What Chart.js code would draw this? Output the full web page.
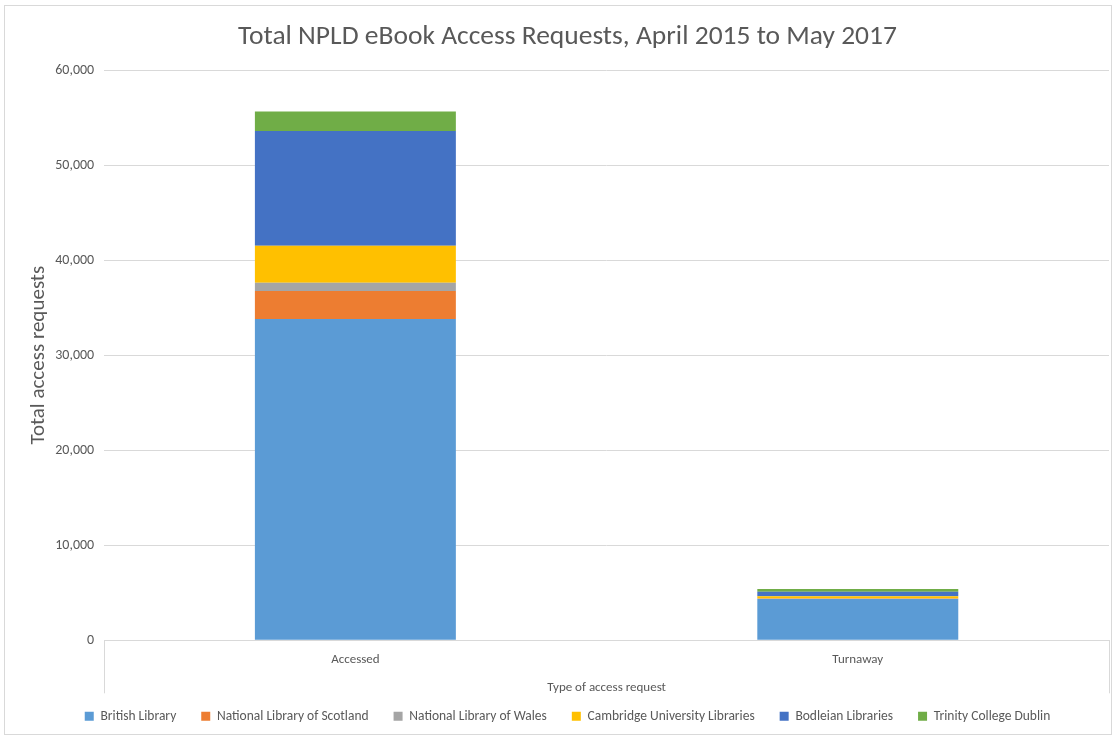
<!DOCTYPE html>
<html>
<head>
<meta charset="utf-8">
<script src="https://cdn.jsdelivr.net/npm/chart.js@4.4.1/dist/chart.umd.min.js"></script>
<style>
  html, body { margin: 0; padding: 0; background: #fff; }
  #wrap { position: relative; width: 1115px; height: 736px; }
  #frame { position: absolute; left: 4px; top: 5px; width: 1106px; height: 728px; border: 1px solid #d9d9d9; pointer-events: none; }
</style>
</head>
<body>
<div id="wrap">
  <canvas id="chart" width="1115" height="736"></canvas>
  <div id="frame"></div>
</div>
<script>
// Categories and series
const categories = ['Accessed', 'Turnaway'];
const britishLibrary = [33800, 4340];
const nlScotland = [2950, 40];
const nlWales = [870, 20];
const cambridge = [3890, 230];
const bodleian = [12080, 480];
const trinity = [2040, 280];

const yTicks = [0, 10000, 20000, 30000, 40000, 50000, 60000];

const FONT = "Carlito, Calibri, Lato, 'Open Sans', sans-serif";
const grey = '#595959';

// Excel style box lines under the category axis
const axisBox = {
    id: 'axisBox',
    afterDraw(chart) {
        const x = chart.scales.x;
        const ctx = chart.ctx;
        ctx.save();
        ctx.strokeStyle = '#d9d9d9';
        ctx.lineWidth = 1;
        ctx.beginPath();
        ctx.moveTo(Math.round(x.left) + 0.5, x.top);
        ctx.lineTo(Math.round(x.left) + 0.5, x.top + 53);
        ctx.moveTo(Math.round(x.right) + 0.5, x.top);
        ctx.lineTo(Math.round(x.right) + 0.5, x.top + 53);
        ctx.stroke();
        ctx.restore();
    }
};

function ds(label, data, color) {
    return {
        label: label,
        data: data,
        backgroundColor: color,
        borderWidth: 0,
        categoryPercentage: 1,
        barPercentage: 0.4
    };
}

new Chart(document.getElementById('chart').getContext('2d'), {
    type: 'bar',
    data: {
        labels: categories,
        datasets: [
            ds('British Library', britishLibrary, '#5b9bd5'),
            ds('National Library of Scotland', nlScotland, '#ed7d31'),
            ds('National Library of Wales', nlWales, '#a5a5a5'),
            ds('Cambridge University Libraries', cambridge, '#ffc000'),
            ds('Bodleian Libraries', bodleian, '#4472c4'),
            ds('Trinity College Dublin', trinity, '#70ad47')
        ]
    },
    options: {
        responsive: false,
        animation: false,
        layout: { padding: { left: 26, right: 6, top: 21, bottom: 3 } },
        plugins: {
            title: {
                display: true,
                text: 'Total NPLD eBook Access Requests, April 2015 to May 2017',
                color: grey,
                font: { family: FONT, size: 27.5, weight: 'normal' },
                padding: { top: 0, bottom: 16 }
            },
            legend: {
                position: 'bottom',
                labels: {
                    color: grey,
                    font: { family: FONT, size: 13.5 },
                    boxWidth: 9,
                    boxHeight: 9,
                    padding: 25
                }
            },
            tooltip: { enabled: false }
        },
        scales: {
            x: {
                stacked: true,
                grid: { display: false },
                border: { color: '#d9d9d9' },
                ticks: { color: grey, font: { family: FONT, size: 13 }, padding: 4 },
                title: {
                    display: true,
                    text: 'Type of access request',
                    color: grey,
                    font: { family: FONT, size: 13 },
                    padding: { top: 8, bottom: -11 }
                }
            },
            y: {
                stacked: true,
                min: 0,
                max: 60000,
                afterBuildTicks(axis) { axis.ticks = yTicks.map(v => ({ value: v })); },
                grid: { color: '#d9d9d9', drawTicks: false },
                border: { display: false },
                ticks: {
                    color: grey,
                    font: { family: FONT, size: 14 },
                    padding: 10,
                    callback: v => v.toLocaleString('en-US')
                },
                title: {
                    display: true,
                    text: 'Total access requests',
                    color: grey,
                    font: { family: FONT, size: 21 },
                    padding: { top: 0, bottom: -6 }
                }
            }
        }
    },
    plugins: [axisBox]
});
</script>
</body>
</html>
